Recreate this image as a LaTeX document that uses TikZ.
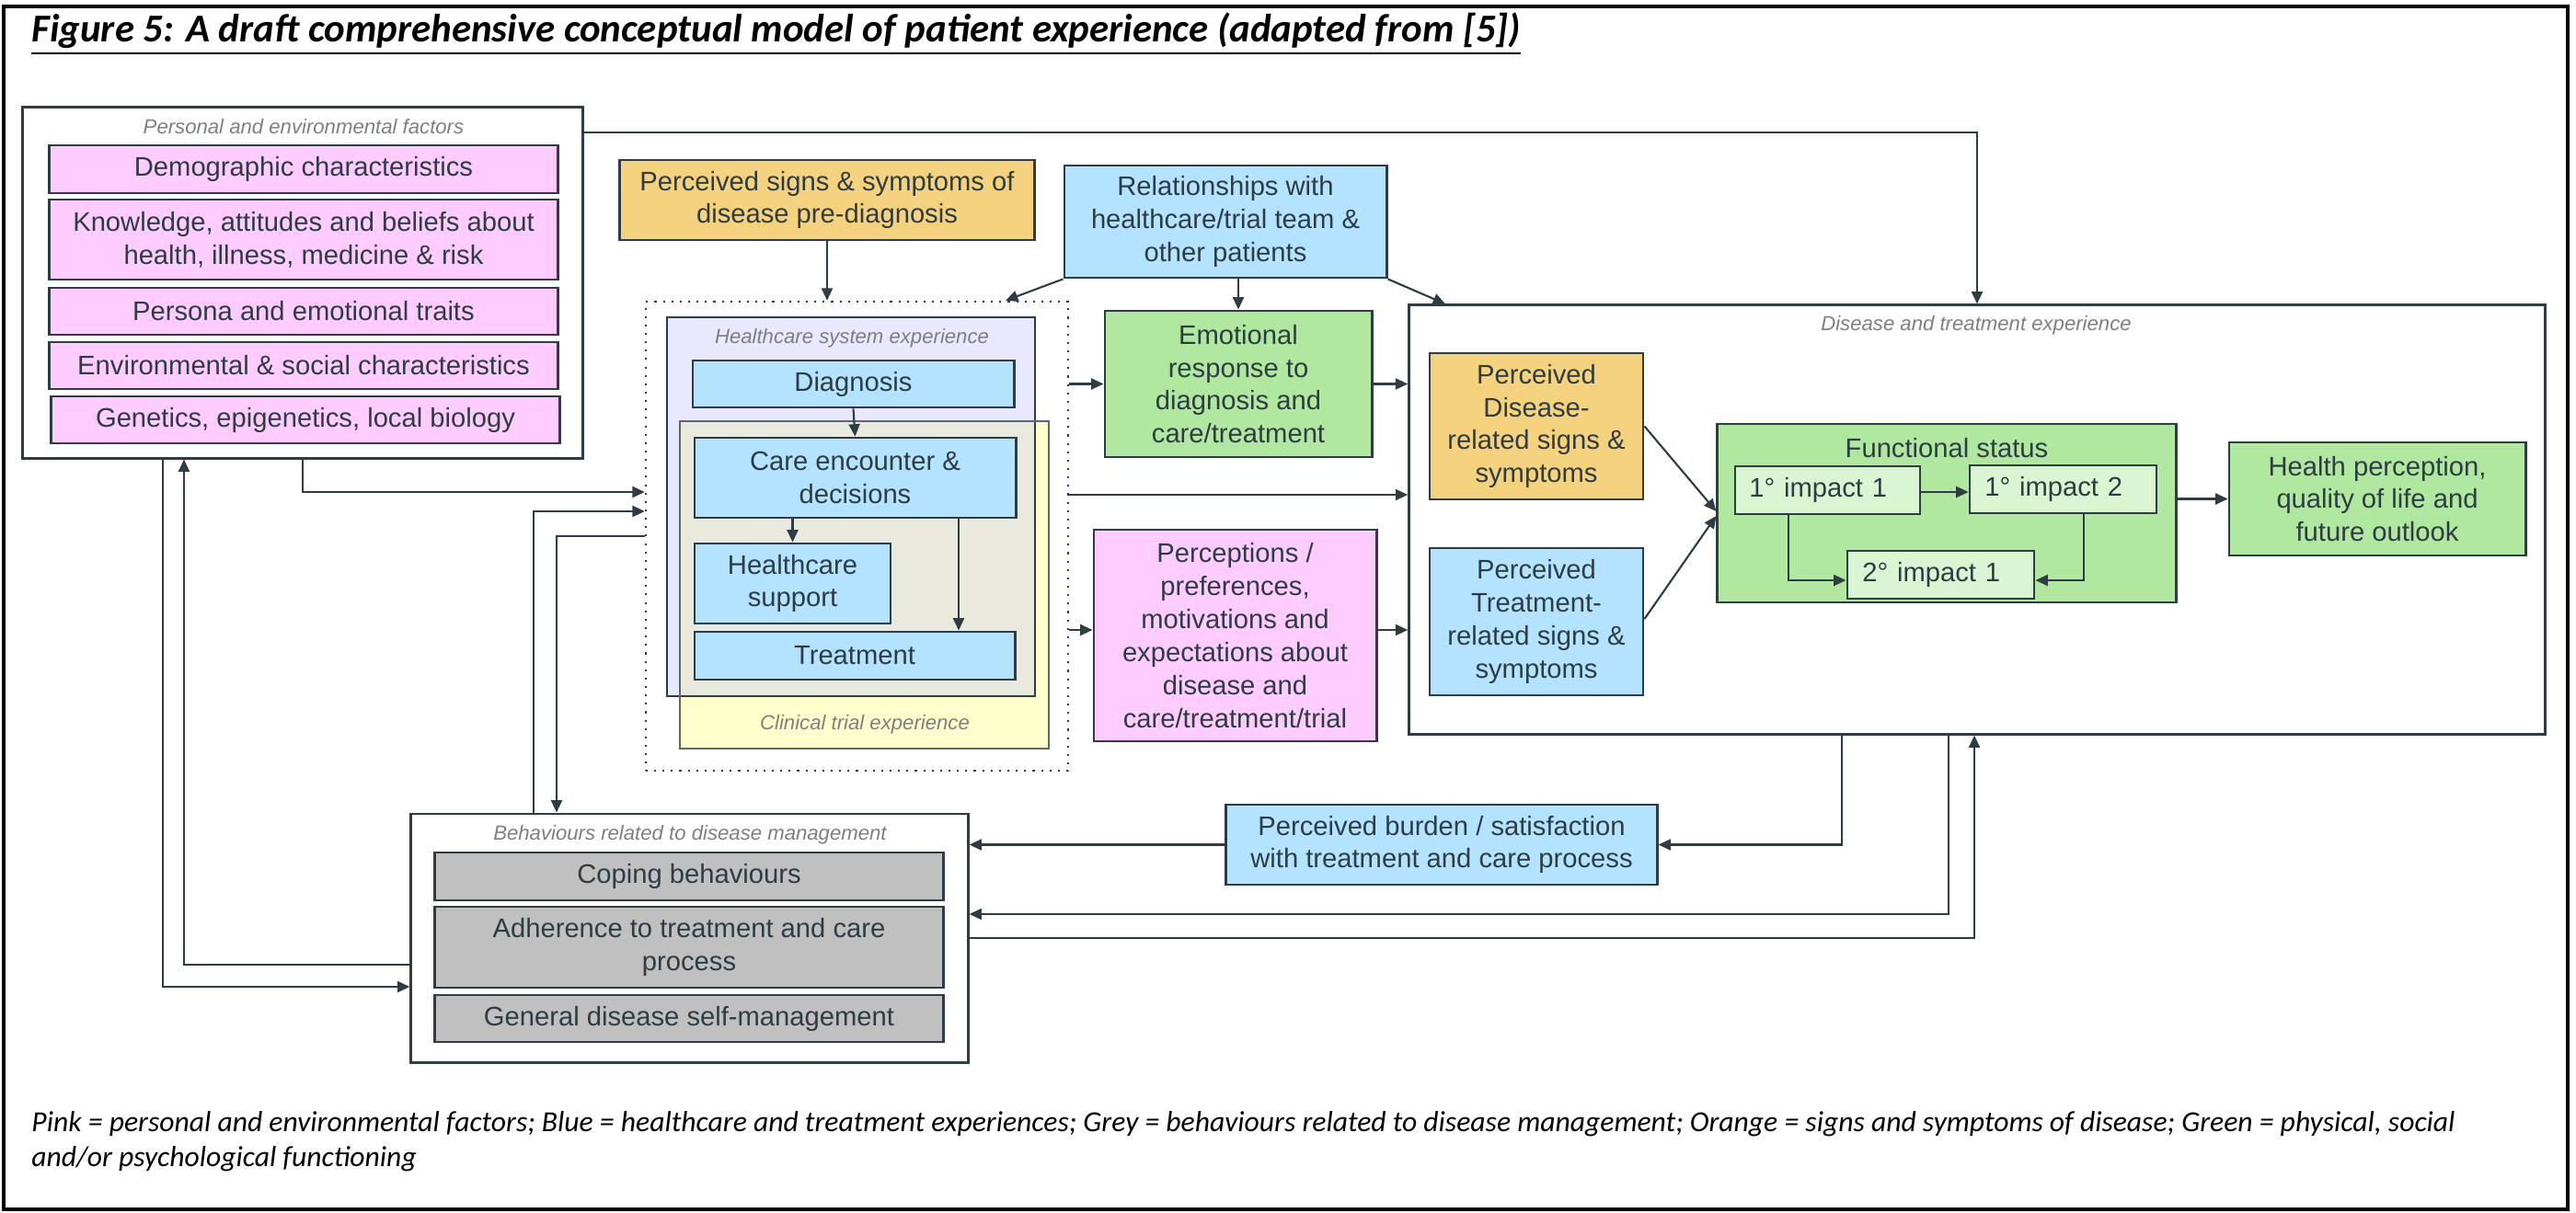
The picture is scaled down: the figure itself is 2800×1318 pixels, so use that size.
\documentclass[tikz,border=0pt]{standalone}
\usepackage{fontspec}
\setmainfont{Liberation Sans}
\newfontfamily\capfont{Carlito}
\usepackage{tikz}
\usetikzlibrary{arrows.meta}
\usepackage{xcolor}
\definecolor{ink}{HTML}{2E3C44}
\definecolor{pinkf}{HTML}{FFCCFF}
\definecolor{bluef}{HTML}{B3E3FF}
\definecolor{orangef}{HTML}{F5D27D}
\definecolor{greenf}{HTML}{B0E8A0}
\definecolor{palegreen}{HTML}{D9F5D2}
\definecolor{greyf}{HTML}{C0C0C0}
\definecolor{lavender}{HTML}{E8E8FF}
\definecolor{paleyellow}{HTML}{FFFFCC}
\definecolor{overlapf}{HTML}{EAE9DE}
\definecolor{labelgrey}{HTML}{7F7F7F}
\definecolor{ctline}{HTML}{5C6870}
\newcommand{\bxfont}{\fontsize{8.3}{10.2}\selectfont}
\newcommand{\lblfont}{\fontsize{6.3}{7.5}\selectfont\itshape}
\tikzset{
  box/.style = {rectangle, draw=ink, line width=0.8pt, text=ink, align=center,
    inner sep=1pt, font=\bxfont},
  boxsize/.style 2 args = {minimum width=#1cm, minimum height=#2cm},
  pinkbox/.style = {box, fill=pinkf},
  bluebox/.style = {box, fill=bluef},
  orangebox/.style = {box, fill=orangef},
  greenbox/.style = {box, fill=greenf},
  greybox/.style = {box, fill=greyf},
  impactbox/.style = {box, fill=palegreen, align=left, text width=1.7cm},
  group/.style = {rectangle, draw=ink, line width=0.8pt, fill=white, inner sep=0pt},
  grouplabel/.style = {font=\lblfont, text=labelgrey},
  arrow/.style = {draw=ink, line width=0.6pt, -{Triangle[length=3.8pt, width=3.4pt]}}
}

\begin{document}
\begin{tikzpicture}[x=0.01cm, y=-0.01cm]
\useasboundingbox (0,0) rectangle (2800,1318);
\draw[line width=1.1pt] (4,7) rectangle (2791,1315);

\node[anchor=west, font=\capfont\bfseries\itshape\fontsize{12.2}{14}\selectfont] (title) at (22,37)
  {\underline{Figure 5: A draft comprehensive conceptual model of patient experience (adapted from [5])}};

% personal and environmental factors
\node[group, boxsize={6.08}{3.81}] (pef) at (329,307.5) {};
\node[grouplabel] (peflbl) at (330,138) {Personal and environmental factors};
\node[pinkbox, boxsize={5.52}{0.52}] (demo) at (330,184) {Demographic characteristics};
\node[pinkbox, boxsize={5.52}{0.87}] (know) at (330,260.5) {Knowledge, attitudes and beliefs about\\health, illness, medicine \& risk};
\node[pinkbox, boxsize={5.52}{0.51}] (persona) at (330,338.5) {Persona and emotional traits};
\node[pinkbox, boxsize={5.52}{0.51}] (envsoc) at (330,397.5) {Environmental \& social characteristics};
\node[pinkbox, boxsize={5.52}{0.51}] (genet) at (332,456.5) {Genetics, epigenetics, local biology};

% healthcare and trial experience
\node[rectangle, draw=ink, dotted, line width=0.6pt, minimum width=4.59cm, minimum height=5.10cm] (ctr) at (931.5,583) {};
\node[rectangle, fill=lavender, minimum width=3.98cm, minimum height=4.10cm] (hcs) at (925,551) {};
\node[rectangle, fill=paleyellow, minimum width=3.99cm, minimum height=3.54cm] (ct) at (939.5,636) {};
\fill[overlapf] (ct.north west) rectangle (hcs.south east);
\draw[ink, line width=0.6pt] (hcs.north west) rectangle (hcs.south east);
\draw[ctline, line width=0.5pt] (ct.north west) rectangle (ct.south east);
\node[grouplabel] (hcslbl) at (926,368) {Healthcare system experience};
\node[grouplabel] (ctlbl) at (940,788) {Clinical trial experience};
\node[bluebox, boxsize={3.49}{0.51}] (diag) at (927.5,417.5) {Diagnosis};
\node[bluebox, boxsize={3.49}{0.87}] (care) at (929.5,519.5) {Care encounter \&\\decisions};
\node[bluebox, boxsize={2.13}{0.87}] (hsup) at (861.5,634.5) {Healthcare\\support};
\node[bluebox, boxsize={3.48}{0.52}] (treat) at (929,713) {Treatment};

\node[orangebox, boxsize={4.50}{0.87}] (predx) at (899,217.5) {Perceived signs \& symptoms of\\disease pre-diagnosis};
\node[bluebox, boxsize={3.50}{1.22}] (relat) at (1332,241) {Relationships with\\healthcare/trial team \&\\other patients};
\node[greenbox, boxsize={2.90}{1.59}] (emo) at (1346,417.5) {Emotional\\response to\\diagnosis and\\care/treatment};
\node[pinkbox, boxsize={3.07}{2.30}] (percp) at (1342.5,691) {Perceptions /\\preferences,\\motivations and\\expectations about\\disease and\\care/treatment/trial};

% disease and treatment experience
\node[group, boxsize={12.34}{4.66}] (dte) at (2149,565) {};
\node[grouplabel] (dtelbl) at (2148,354) {Disease and treatment experience};
\node[orangebox, boxsize={2.32}{1.59}] (dsig) at (1670,463.5) {Perceived\\Disease-\\related signs \&\\symptoms};
\node[bluebox, boxsize={2.32}{1.60}] (tsig) at (1670,676) {Perceived\\Treatment-\\related signs \&\\symptoms};
\node[greenbox, boxsize={4.98}{1.94}] (func) at (2116,558) {};
\node[font=\bxfont, text=ink] (funclbl) at (2116,487) {Functional status};
\node[impactbox, boxsize={2.01}{0.52}] (imp1) at (1986.5,533) {1° impact 1};
\node[impactbox, boxsize={2.03}{0.52}] (imp2) at (2242.5,532) {1° impact 2};
\node[impactbox, boxsize={2.03}{0.52}] (imp3) at (2109.5,625) {2° impact 1};
\node[greenbox, boxsize={3.22}{1.23}] (health) at (2584,542.5) {Health perception,\\quality of life and\\future outlook};

% behaviours
\node[group, boxsize={6.05}{2.70}] (beh) at (749.5,1020) {};
\node[grouplabel] (behlbl) at (750,908) {Behaviours related to disease management};
\node[greybox, boxsize={5.52}{0.52}] (coping) at (749,953) {Coping behaviours};
\node[greybox, boxsize={5.52}{0.88}] (adher) at (749,1030) {Adherence to treatment and care\\process};
\node[greybox, boxsize={5.52}{0.51}] (gensm) at (749,1107.5) {General disease self-management};
\node[bluebox, boxsize={4.68}{0.87}] (burden) at (1567,918.5) {Perceived burden / satisfaction\\with treatment and care process};

% connectors
\draw[arrow] (diag.south) -- (care.north);
\draw[arrow] (care.south -| hsup.north) -- (hsup.north);
\draw[arrow] (care.south -| 1042,0) -- (treat.north -| 1042,0);
\draw[arrow] (predx.south) -- (ctr.north -| predx.south);
\draw[arrow] (relat.south west) -- (ctr.north -| 1093,0);
\draw[arrow] (relat.south -| emo.north) -- (emo.north);
\draw[arrow] (relat.south east) -- (dte.north -| 1571,0);
\draw[arrow] (pef.east |- 0,144) -| (dte.north);
\draw[arrow] (ctr.east |- emo.west) -- (emo.west);
\draw[arrow] (emo.east) -- (dte.west |- emo.east);
\draw[arrow] (ctr.east |- 0,538) -- (dte.west |- 0,538);
\draw[arrow] (ctr.east |- 0,685) -- (percp.west |- 0,685);
\draw[arrow] (percp.east |- 0,685) -- (dte.west |- 0,685);
\draw[arrow] (dsig.east) -- ([yshift=0.02cm]func.west);
\draw[arrow] (tsig.east |- 0,673) -- ([yshift=-0.03cm]func.west);
\draw[arrow] (imp1.east |- 0,535) -- (imp2.west |- 0,535);
\draw[arrow] (imp1.south -| 1944,0) |- (imp3.west |- 0,631);
\draw[arrow] (imp2.south -| 2265,0) |- (imp3.east |- 0,631);
\draw[arrow] (func.east |- health.west) -- (health.west);
\draw[arrow] (pef.south) |- (ctr.west |- 0,535);
\draw[arrow] (beh.north -| 580,0) |- (ctr.west |- 0,556);
\draw[arrow] (ctr.west |- 0,583) -| (beh.north -| 605,0);
\draw[arrow] (pef.south -| 177,0) |- (beh.west |- 0,1073);
\draw[arrow] (beh.west |- 0,1049) -| (pef.south -| 200,0);
\draw[arrow] (dte.south -| 2002,0) |- (burden.east);
\draw[arrow] (burden.west) -- (beh.east |- burden.west);
\draw[arrow] (dte.south -| 2118,0) |- (beh.east |- 0,994);
\draw[arrow] (beh.east |- 0,1020) -| (dte.south -| 2146,0);

\node[anchor=west, align=left, font=\capfont\itshape\fontsize{9}{10.8}\selectfont] (legend) at (22,1241)
  {Pink = personal and environmental factors; Blue = healthcare and treatment experiences; Grey = behaviours related to disease management; Orange = signs and symptoms of disease; Green = physical, social\\and/or psychological functioning};
\end{tikzpicture}
\end{document}
